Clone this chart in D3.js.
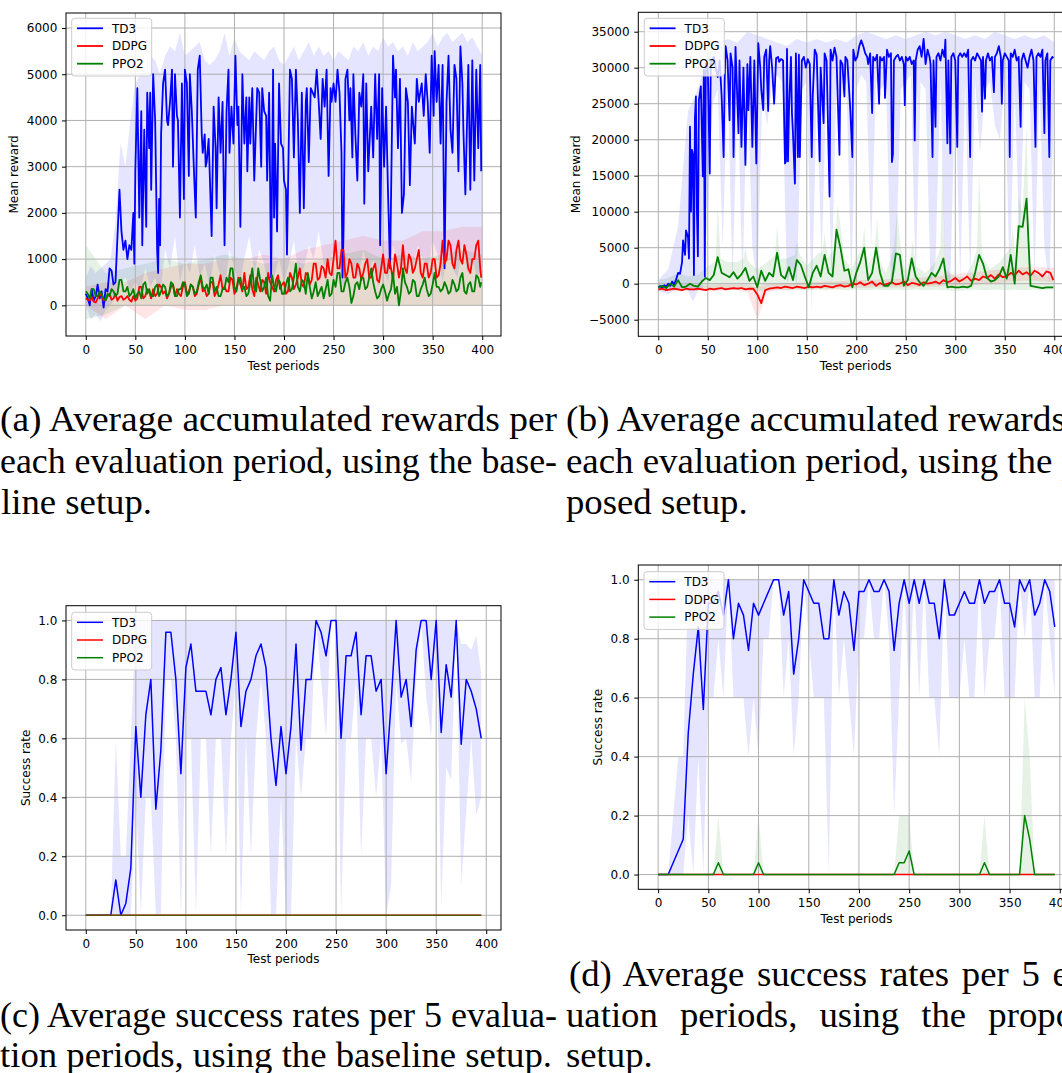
<!DOCTYPE html>
<html>
<head>
<meta charset="utf-8">
<script src="https://cdn.jsdelivr.net/npm/d3@7"></script>
<style>
  body { margin: 0; background: #fff; }
  svg { display: block; }
</style>
</head>
<body>
<svg id="fig" width="1062" height="1073"></svg>
<script>
// ---------- data ----------
const seriesNames = ["TD3", "DDPG", "PPO2"];
const seriesColors = ["#0000ff", "#ff0000", "#008000"];
const xTicks = [0, 50, 100, 150, 200, 250, 300, 350, 400];
const yTicksA = [0, 1000, 2000, 3000, 4000, 5000, 6000];
const yTicksB = [-5000, 0, 5000, 10000, 15000, 20000, 25000, 30000, 35000];
const yTicksRate = [0, 0.2, 0.4, 0.6, 0.8, 1.0];

// (a) mean reward, baseline setup  -- [period, value]
const td3A = [[0,250],[2,150],[4,0],[6,350],[8,100],[10,200],[12,450],[14,150],[16,300],[18,-50],
  [20,350],[22,300],[24,800],[26,750],[28,450],[30,500],[32,1500],[34,2500],[36,1600],[38,1200],
  [40,1400],[42,1000],[44,1300],[46,1200],[48,2000],[49,900],[50,2900],[52,4700],[54,1900],[56,4200],
  [57,1300],[59,3800],[61,1700],[62,4600],[64,3400],[65,4600],[66,2500],[68,5000],[70,4000],[72,1200],
  [73,700],[74,2300],[75,1300],[76,3700],[78,4800],[80,5100],[82,4000],[83,3900],[85,4400],[87,5100],
  [88,3000],[90,5000],[92,4100],[93,4000],[95,1900],[97,4800],[99,2300],[100,5100],[102,4800],[104,2800],
  [105,5000],[107,4200],[109,3000],[111,1900],[113,5100],[115,5400],[117,3700],[118,3300],[120,3700],[121,3000],
  [122,3100],[124,3600],[125,2900],[127,1500],[129,4300],[131,3400],[132,2100],[134,4500],[136,3300],[138,4400],
  [140,1300],[142,4200],[144,5100],[145,3300],[147,4300],[149,3500],[151,5400],[153,3900],[154,4300],[156,1700],
  [158,5000],[160,3500],[162,4500],[163,2900],[165,4500],[166,3500],[168,4700],[170,2700],[171,3400],[173,4700],
  [175,4600],[177,3000],[178,4700],[180,4200],[182,4100],[183,2700],[185,4600],[187,600],[189,5100],[190,1900],
  [191,3500],[193,1600],[195,4800],[197,3500],[199,3400],[200,2700],[202,2500],[203,1100],[206,5100],[208,4900],
  [210,3200],[212,5100],[214,4000],[216,2000],[218,4600],[220,2100],[222,4400],[223,4700],[225,3100],[227,4700],
  [229,4600],[231,4500],[233,5100],[235,4400],[237,3600],[239,4900],[241,4300],[243,5100],[245,2800],[247,4700],
  [248,4400],[250,4800],[252,4400],[254,5100],[256,4600],[258,3300],[259,600],[260,1500],[262,4900],[264,5100],
  [266,4000],[267,4700],[269,3200],[270,5000],[272,3700],[274,2700],[276,4600],[278,4300],[280,5000],[281,2200],
  [283,4800],[285,2900],[288,4300],[290,3200],[292,5000],[294,3600],[296,5000],[297,1300],[299,4700],[301,3000],
  [303,4300],[305,2400],[307,800],[310,5400],[312,4500],[313,5100],[315,3400],[317,4900],[319,2000],[321,2400],
  [323,4700],[325,4400],[327,2600],[329,4300],[332,3500],[334,4900],[336,4400],[339,4800],[341,4100],[343,5000],
  [345,4400],[347,3300],[349,5400],[351,4100],[352,5500],[354,4400],[356,5200],[358,3500],[360,5200],[362,800],
  [364,4400],[366,5400],[368,3800],[370,3300],[372,5200],[374,4900],[376,2900],[378,5600],[380,4800],[381,3800],
  [383,2400],[386,5200],[388,2500],[390,5300],[392,2700],[394,5100],[396,3400],[398,5200],[399,2900]];
// DDPG and PPO2 every 2 periods, last value at 399
const ddpgA = [150,120,100,180,80,60,150,250,200,100,120,200,250,120,150,250,100,180,200,120,
  150,200,120,80,200,100,150,400,400,150,200,350,300,150,350,200,250,450,400,250,
  300,150,250,400,450,200,350,250,200,400,500,250,300,450,400,200,250,450,600,300,
  350,200,250,500,500,200,300,450,650,350,400,300,300,600,550,250,350,600,450,300,
  700,350,400,650,350,200,600,450,300,550,500,250,700,500,400,300,550,650,350,450,
  500,250,300,700,600,350,450,600,800,450,400,700,650,450,550,900,900,550,600,850,
  800,600,1000,700,650,1000,1400,800,800,1200,1200,600,700,1000,900,600,600,900,800,550,
  700,900,1000,600,600,800,900,550,500,800,1100,700,700,1000,800,550,1100,900,600,800,
  1300,800,700,1100,1000,700,800,1000,1200,700,600,900,900,600,700,1000,1000,600,650,900,
  1400,900,1000,1400,1300,900,800,1200,1400,1000,900,1300,1100,800,700,1000,1000,1300,1400,800,
  600];
const ppo2A = [300,250,150,350,350,200,200,300,250,150,100,250,200,350,300,200,250,550,550,300,
  300,400,200,250,350,150,250,300,150,450,500,250,350,200,200,400,450,200,300,450,
  400,200,250,500,450,200,200,350,350,500,450,200,250,450,400,250,300,500,650,400,
  350,450,250,600,600,300,400,200,200,350,350,600,500,800,800,400,300,550,600,350,
  400,200,250,500,800,350,300,800,550,300,400,600,200,100,650,400,300,550,500,250,
  250,450,600,300,350,600,900,400,300,550,500,250,700,400,150,300,500,200,300,400,
  150,350,550,200,250,550,400,700,700,300,300,500,600,400,50,200,450,500,350,600,
  600,350,400,600,800,500,300,150,200,350,450,300,100,250,350,700,250,400,0,300,
  800,500,400,250,300,550,500,200,200,350,450,600,350,200,250,450,700,400,400,300,
  350,500,400,250,300,550,450,300,350,600,700,300,250,450,500,300,300,650,600,400,
  500];
// bands (every 5 periods for TD3, every 20 for the others)
const td3AUpper = [600,850,700,800,900,1000,1800,3500,3000,4000,
  4800,5000,5200,5400,5300,5000,5400,5600,5500,5900,
  5400,5500,5600,5700,5300,5200,5300,5500,5900,5400,
  5800,5500,5400,5300,5500,5400,5300,5500,5600,5300,
  5200,5400,5600,5300,5500,5700,5400,5600,5400,5500,
  5300,5500,5400,5300,5600,5500,5700,5400,5600,5500,
  5800,5600,5700,5500,5600,5400,5700,5500,5600,5700,
  5900,5600,5800,5900,5700,5800,5900,5700,5800,5600,
  5400];
const td3ALower = [0,-300,-200,-350,-100,0,200,500,600,300,
  500,300,800,400,600,200,1200,800,1500,500,
  1000,700,1300,600,900,400,1100,700,300,1200,
  800,400,1000,1500,700,1200,900,300,600,1000,
  500,900,1400,600,800,1300,1000,1600,900,700,
  1200,1000,300,1100,800,600,1200,700,1000,400,
  800,500,1300,900,700,1100,800,1300,1000,700,
  1400,1100,500,1200,800,600,1300,700,1000,600,
  800];
const ddpgAUpper = [400,500,500,700,800,900,900,1000,1000,1100,1000,1200,1300,1400,1500,1400,1400,1600,1600,1700,1700];
const ddpgALower = [0,-300,0,-300,0,-100,-100,0,0,0,0,0,0,0,0,0,0,0,0,0,0];
const ppo2AUpper = [1300,700,800,900,1000,900,1000,1100,1000,900,1000,900,1000,1100,1200,1000,1100,1000,1100,1200,1100];
const ppo2ALower = [-300,-200,0,0,0,0,0,0,0,0,0,0,0,0,0,0,0,0,0,0,0];

// (b) mean reward, proposed setup  -- [period, value]
const td3B = [[0,-500],[2,-300],[4,-600],[6,-200],[8,-400],[10,0],[12,-300],[14,300],[16,-100],[18,600],
  [20,1500],[22,1400],[24,3000],[25,6000],[27,4000],[28,7400],[30,6500],[31,3500],[32,21800],[33,10000],
  [34,18600],[35,18000],[36,1200],[37,23000],[38,26000],[39,10200],[40,3800],[41,25500],[43,27400],[45,14900],
  [46,29700],[47,1000],[48,30600],[50,30000],[52,15300],[53,30600],[56,31500],[58,30000],[60,28700],[62,31000],
  [64,26000],[66,17600],[67,28000],[68,33000],[70,31000],[72,22700],[73,32000],[75,30000],[76,17600],[78,32900],
  [81,20900],[82,31000],[84,19000],[86,30000],[88,16500],[90,30500],[91,24100],[93,31500],[95,19000],[97,31000],
  [99,16700],[101,33400],[103,30000],[104,27000],[106,24100],[107,31500],[109,32500],[111,24000],[112,31000],[113,33000],
  [115,30000],[117,25000],[119,31300],[121,31500],[122,30800],[124,31200],[126,31000],[128,16700],[129,17000],[130,32600],
  [131,17000],[132,24000],[134,31500],[135,23700],[136,21000],[138,13900],[139,32000],[141,17600],[142,31800],[143,17600],
  [145,31000],[147,31500],[149,30000],[151,31200],[153,30500],[155,17600],[156,26000],[158,32500],[160,31800],[163,17000],
  [164,30000],[167,22300],[168,32000],[170,31000],[173,12100],[174,32500],[176,31000],[178,32800],[180,31500],[183,17900],
  [184,31000],[186,30500],[188,26000],[189,31500],[191,31000],[194,24000],[196,17600],[197,32500],[199,31000],[201,31500],
  [203,33000],[205,33800],[207,33000],[209,32000],[211,31500],[212,30500],[214,32000],[216,23700],[217,31500],[219,31000],
  [221,31800],[223,25000],[224,31500],[226,31000],[228,31500],[229,25800],[231,32500],[233,31500],[235,32000],[236,16900],
  [237,18000],[238,31000],[240,31500],[242,31800],[244,31000],[246,31500],[248,30500],[249,24800],[250,31500],[252,31000],
  [254,31500],[256,30500],[258,31000],[259,19900],[260,31000],[262,32500],[264,33000],[266,31500],[268,34000],[270,30500],
  [272,32500],[274,31500],[275,30500],[277,17600],[278,31000],[280,21800],[281,31500],[283,32000],[285,31000],[287,32500],
  [289,31500],[290,33900],[292,19500],[293,31000],[295,18100],[296,31500],[298,32000],[300,31000],[302,19000],[303,31500],
  [305,32000],[307,31500],[309,32000],[311,31500],[313,32500],[315,17600],[316,31000],[318,31500],[320,31000],[322,32000],
  [324,31500],[326,31000],[327,23900],[328,31500],[330,25700],[331,31000],[333,32000],[335,31000],[337,31500],[339,26600],
  [340,31500],[342,32000],[344,33000],[346,31500],[347,25000],[348,31000],[350,32000],[352,31500],[354,31000],[355,17600],
  [356,32000],[358,31500],[360,32500],[362,31000],[364,31500],[366,21800],[367,31000],[369,32000],[371,31000],[373,30000],
  [375,31500],[377,32500],[379,31000],[381,19000],[382,31500],[384,32000],[386,31500],[388,32500],[390,20900],[391,31000],
  [393,32000],[395,17600],[396,31000],[398,31500],[399,31300]];
// DDPG and PPO2 every 4 periods, last value at 399
const ddpgB = [-800,-700,-900,-800,-700,-800,-900,-700,-800,-800,
  -700,-800,-900,-700,-800,-700,-600,-800,-700,-600,
  -700,-600,-800,-700,-700,-1500,-2700,-900,-700,-600,
  -500,-600,-400,-500,-600,-400,-500,-600,-400,-500,
  -400,-500,-300,-400,-500,-300,-200,-400,-300,0,
  -100,200,-200,0,300,-300,100,-200,0,200,
  -100,0,300,-200,100,0,-200,200,0,100,
  300,0,500,200,400,800,300,600,1000,400,
  700,500,1000,800,1200,700,1300,900,1000,1500,
  1200,1800,1300,1600,1100,1800,1500,1000,1700,1500,
  500];
const ppo2B = [-500,-300,-600,0,-400,500,-500,-400,0,-300,
  -400,300,800,500,1200,3700,1500,1200,900,1600,
  700,1300,2200,400,1000,-500,1800,400,1500,1000,
  4300,1200,700,2300,500,3300,2600,1000,-500,1500,
  2500,1000,4000,1500,1000,7500,5000,1800,2000,-500,
  1500,3000,5000,500,1500,5000,1500,-300,-300,300,
  4200,4000,-300,500,3500,1000,200,-300,500,1500,
  1000,2000,3500,-500,-400,-500,-500,-400,-500,-300,
  1500,4000,2800,800,300,500,1000,2300,700,4000,
  0,8000,7900,11800,-300,-400,-500,-600,-500,-500,
  -500];
const td3BUpper = [500,2000,8000,24000,27000,32000,33500,34000,33500,35000,
  34500,34000,33500,33000,34000,33500,34000,33500,34000,33500,
  34500,35000,34500,34000,34500,34000,34500,35000,34500,35000,
  34500,34000,34500,34000,35000,34500,34000,34500,34000,34500,
  33500];
const td3BLower = [-1000,-1200,-1500,-1000,-800,-500,-1000,-2500,-1000,-500,
  10000,25000,27000,5000,28000,0,27000,0,28000,5000,
  0,26000,22000,28000,29000,28000,0,2000,0,27000,
  28000,-4000,26000,3000,28000,0,27000,26000,28000,0,
  27000,29000,28000,5000,28000,27000,28000,0,2000,27000,
  28000,29000,0,28000,27000,0,3000,28000,0,0,
  27000,0,28000,0,28000,18000,27000,28000,22000,20000,
  28000,0,27000,5000,28000,27000,0,28000,5000,0,
  27000];
const ddpgBUpper = [-300,-300,-300,-200,-200,-200,-100,-100,-100,-100,
  -500,0,0,100,100,200,200,300,300,400,
  500,500,600,600,700,700,800,900,1000,1200,
  1300,1500,1600,1800,1900,2000,2200,2300,2300,2300,
  2200];
const ddpgBLower = [-1000,-1000,-1100,-1000,-1000,-1000,-1000,-900,-900,-1200,
  -5000,-1200,-900,-900,-800,-800,-700,-700,-700,-600,
  -600,-600,-500,-600,-500,-500,-500,-400,-400,-300,
  -300,-200,-200,0,0,200,300,400,400,300,
  200];
const ppo2BUpper = [[0,500],[10,800],[20,1500],[30,1000],[40,1200],[50,2500],[58,3000],[60,11000],[63,3500],[70,3000],
  [80,3000],[86,3500],[88,5000],[91,3000],[100,2000],[110,3000],[118,4000],[120,8000],[123,3500],[130,3500],
  [138,4000],[140,6000],[143,4000],[150,2500],[160,4000],[166,4500],[168,7000],[171,3500],[178,5000],[181,11000],
  [184,8000],[188,3500],[195,2000],[200,3500],[206,5000],[208,8000],[211,2500],[218,4000],[221,9000],[224,3000],
  [230,1500],[238,5000],[241,10000],[245,5000],[250,1500],[255,4000],[257,6000],[260,2500],[270,1500],[280,3000],
  [285,5000],[287,18000],[290,2000],[300,1000],[310,1000],[318,3000],[322,5000],[324,16000],[327,4000],[335,2000],
  [345,3000],[350,4000],[356,5000],[358,8000],[361,3000],[364,12000],[368,10000],[372,22000],[375,2000],[385,1000],
  [399,1000]];
const ppo2BLower = [-900,-800,-900,-800,-900,-700,-800,-900,-800,-900,
  -1000,-900,-800,-900,-800,-900,-800,-900,-800,-900,
  -800,-900,-800,-900,-800,-900,-800,-900,-800,-900,
  -1000,-900,-800,-900,-800,-900,-800,-900,-800,-900,
  -800];

// (c) success rate, baseline setup (every 5 periods)
const td3C = [0,0,0,0,0,0,0.12,0,0.04,0.16,
  0.64,0.40,0.68,0.80,0.36,0.56,0.96,0.96,0.80,0.48,
  0.84,0.92,0.76,0.76,0.76,0.68,0.80,0.84,0.68,0.80,
  0.96,0.64,0.76,0.80,0.88,0.92,0.84,0.60,0.44,0.64,
  0.48,0.64,0.92,0.56,0.80,0.80,1.0,0.96,0.88,1.0,
  1.0,0.60,0.88,0.88,0.96,0.68,0.88,0.88,0.76,0.80,
  0.48,0.72,1.0,0.74,0.80,0.64,0.90,1.0,1.0,0.80,
  1.0,0.62,0.85,0.74,1.0,0.58,0.80,0.76,0.70,0.60];
const td3CUpper = [0,0,0,0,0,0,0.6,0.2,0.2,0.6,
  1,1,1,1,1,1,1,1,1,1,
  1,1,1,1,1,1,1,1,1,1,
  1,1,1,1,1,1,1,1,1,1,
  1,1,1,1,1,1,1,1,1,1,
  1,1,1,1,1,1,1,1,1,1,
  1,1,1,1,1,1,1,1,1,1,
  1,1,1,1,1,0.92,0.92,0.9,0.95,0.82];
const td3CLower = [0,0,0,0,0,0,0,0,0,0,
  0.4,0,0.4,0.4,0,0,0.8,0.8,0.6,0,
  0.6,0.6,0,0.6,0.6,0.2,0.6,0.6,0.2,0.6,
  0.8,0,0.6,0.2,0.6,0.8,0.6,0,0,0.4,
  0,0,0.6,0.4,0.6,0.6,1.0,0.8,0.6,1.0,
  1.0,0,0.6,0.6,0.8,0.2,0.6,0.6,0.4,0.6,
  0,0.1,0.8,0.58,0.6,0.45,0.8,1.0,0.74,0.6,
  1.0,0.03,0.5,0.46,1.0,0.1,0.35,0.6,0.34,0.4];
const zeroRate = [0,0,0,0,0,0,0,0,0,0,
  0,0,0,0,0,0,0,0,0,0,
  0,0,0,0,0,0,0,0,0,0,
  0,0,0,0,0,0,0,0,0,0,
  0,0,0,0,0,0,0,0,0,0,
  0,0,0,0,0,0,0,0,0,0,
  0,0,0,0,0,0,0,0,0,0,
  0,0,0,0,0,0,0,0,0,0];

// (d) success rate, proposed setup
const td3D = [0,0,0,0.04,0.08,0.12,0.48,0.68,0.84,0.56,
  0.92,0.92,0.96,0.88,1.0,0.80,0.92,0.88,0.76,0.92,
  0.88,0.92,0.96,1.0,1.0,0.88,0.96,0.68,0.80,1.0,
  0.96,0.92,0.92,0.80,0.80,1.0,0.88,0.96,0.92,0.76,
  0.96,0.96,1.0,0.96,0.96,1.0,0.96,0.76,0.92,1.0,
  0.92,1.0,0.92,1.0,0.92,0.92,0.80,1.0,0.88,0.88,
  0.92,0.96,0.92,0.92,1.0,0.92,0.96,0.96,1.0,0.92,
  0.92,0.84,1.0,0.96,1.0,0.88,0.92,1.0,0.96,0.84];
const td3DUpper = [0,0,0,0.2,0.4,0.4,1,1,1,1,
  1,1,1,1,1,1,1,1,1,1,
  1,1,1,1,1,1,1,1,1,1,
  1,1,1,1,1,1,1,1,1,1,
  1,1,1,1,1,1,1,1,1,1,
  1,1,1,1,1,1,1,1,1,1,
  1,1,1,1,1,1,1,1,1,1,
  1,1,1,1,1,1,1,1,1,1];
const td3DLower = [0,0,0,0,0,0,0.2,0,0.4,0,
  0.6,0.6,0.8,0.6,1.0,0.6,0.6,0.6,0.4,0.6,
  0.4,0.8,0.8,1.0,1.0,0.6,0.8,0.4,0.6,1.0,
  0.8,0.6,0.6,0.6,0,1.0,0.6,0.8,0.6,0.4,
  0.8,0.8,1.0,0.8,0.8,1.0,0.8,0.2,0.6,1.0,
  0.6,1.0,0.6,1.0,0.6,0.6,0.4,1.0,0.6,0.6,
  0.6,0.8,0.6,0.6,1.0,0.6,0.8,0.8,1.0,0.6,
  0.6,0.6,1.0,0.8,1.0,0.6,0.6,1.0,0.8,0.6];
const ppo2D = [0,0,0,0,0,0,0,0,0,0,
  0,0,0.04,0,0,0,0,0,0,0,
  0.04,0,0,0,0,0,0,0,0,0,
  0,0,0,0,0,0,0,0,0,0,
  0,0,0,0,0,0,0,0,0.04,0.04,
  0.08,0,0,0,0,0,0,0,0,0,
  0,0,0,0,0,0.04,0,0,0,0,
  0,0,0,0.2,0.12,0,0,0,0,0];
const ppo2DUpper = [0,0,0,0,0,0,0,0,0,0,
  0,0,0.2,0,0,0,0,0,0,0,
  0.2,0,0,0,0,0,0,0,0,0,
  0,0,0,0,0,0,0,0,0,0,
  0,0,0,0,0,0,0,0,0.2,0.2,
  0.2,0,0,0,0,0,0,0,0,0,
  0,0,0,0,0,0.2,0,0,0,0,
  0,0,0,0.6,0.4,0,0,0,0,0];

// x positions of the sampled series
const every2 = d3.range(0, 400, 2).concat([399]);
const every4 = d3.range(0, 400, 4).concat([399]);
const every5 = d3.range(0, 400, 5);
const every5to400 = d3.range(0, 401, 5);
const every10 = d3.range(0, 401, 10);
const every20 = d3.range(0, 401, 20);

// ---------- drawing ----------
const svg = d3.select("#fig");
svg.append("rect").attr("width", 1062).attr("height", 1073).attr("fill", "white");
const tickFont = "'DejaVu Sans', Verdana, sans-serif";

function panel(cfg) {
  const x = d3.scaleLinear().domain(cfg.xDomain).range([cfg.left, cfg.right]);
  const y = d3.scaleLinear().domain(cfg.yDomain).range([cfg.bottom, cfg.top]);
  const g = svg.append("g");

  g.append("clipPath").attr("id", "clip" + cfg.id)
    .append("rect")
    .attr("x", cfg.left).attr("y", cfg.top)
    .attr("width", cfg.right - cfg.left).attr("height", cfg.bottom - cfg.top);
  const plot = g.append("g").attr("clip-path", "url(#clip" + cfg.id + ")");

  // shaded bands: upper edge forward, lower edge back
  cfg.bands.forEach(b => {
    const top = b.up.map((v, i) => [x(b.upP[i]), y(v)]);
    const bot = b.lo.map((v, i) => [x(b.loP[i]), y(v)]).reverse();
    plot.append("path")
      .attr("d", d3.line()(top.concat(bot)) + "Z")
      .attr("fill", b.color)
      .attr("fill-opacity", 0.1);
  });

  // grid
  plot.selectAll(".gx").data(xTicks).enter().append("line")
    .attr("x1", d => x(d)).attr("x2", d => x(d))
    .attr("y1", cfg.top).attr("y2", cfg.bottom)
    .attr("stroke", "#b0b0b0").attr("stroke-width", 1);
  plot.selectAll(".gy").data(cfg.yTicks).enter().append("line")
    .attr("x1", cfg.left).attr("x2", cfg.right)
    .attr("y1", d => y(d)).attr("y2", d => y(d))
    .attr("stroke", "#b0b0b0").attr("stroke-width", 1);

  // lines
  cfg.lines.forEach(s => {
    const line = d3.line()
      .x((d, i) => x(s.periods[i]))
      .y(d => y(d));
    plot.append("path").datum(s.values)
      .attr("d", line)
      .attr("fill", "none")
      .attr("stroke", s.color)
      .attr("stroke-opacity", s.opacity || 1)
      .attr("stroke-width", cfg.lw)
      .attr("stroke-linejoin", "round");
  });

  // frame
  g.append("rect")
    .attr("x", cfg.left).attr("y", cfg.top)
    .attr("width", cfg.right - cfg.left).attr("height", cfg.bottom - cfg.top)
    .attr("fill", "none").attr("stroke", "black").attr("stroke-width", 1);

  // axes
  const xAxis = d3.axisBottom(x).tickValues(xTicks).tickSize(4).tickPadding(5.5);
  const gx = g.append("g").attr("transform", "translate(0," + cfg.bottom + ")").call(xAxis);
  const yAxis = d3.axisLeft(y).tickValues(cfg.yTicks).tickSize(4).tickPadding(4.7)
    .tickFormat(cfg.yFormat);
  const gy = g.append("g").attr("transform", "translate(" + cfg.left + ",0)").call(yAxis);
  [gx, gy].forEach(a => {
    a.select(".domain").remove();
    a.selectAll("text").attr("font-family", tickFont).attr("font-size", 12).attr("fill", "black");
    a.selectAll("line").attr("stroke", "black");
  });

  g.append("text")
    .attr("x", (cfg.left + cfg.right) / 2).attr("y", cfg.xLabelY)
    .attr("text-anchor", "middle")
    .attr("font-family", tickFont).attr("font-size", 12)
    .text("Test periods");
  g.append("text")
    .attr("transform", "translate(" + cfg.yLabelX + "," + (cfg.top + cfg.bottom) / 2 + ") rotate(-90)")
    .attr("text-anchor", "middle")
    .attr("font-family", tickFont).attr("font-size", 12)
    .text(cfg.yLabel);

  // legend
  const lg = g.append("g").attr("transform", "translate(" + cfg.legend[0] + "," + cfg.legend[1] + ")");
  lg.append("rect").attr("width", 80).attr("height", 57.7).attr("rx", 3)
    .attr("fill", "white").attr("fill-opacity", 0.8)
    .attr("stroke", "#cccccc").attr("stroke-width", 1);
  seriesNames.forEach((name, i) => {
    const yy = 10 + i * 17.7;
    lg.append("line").attr("x1", 5.3).attr("x2", 31.3).attr("y1", yy).attr("y2", yy)
      .attr("stroke", seriesColors[i]).attr("stroke-width", cfg.lw);
    lg.append("text").attr("x", 40.3).attr("y", yy + 4.3)
      .attr("font-family", tickFont).attr("font-size", 12)
      .text(name);
  });
}

const rewardFmt = d => String(d).replace("-", "\u2212");
const rateFmt = d3.format(".1f");

panel({
  id: "a", left: 66, right: 501, top: 13, bottom: 336, lw: 1.8,
  xDomain: [-19.95, 418.95], yDomain: [-664, 6325], yTicks: yTicksA, yFormat: rewardFmt,
  xLabelY: 369.7, yLabelX: 18, yLabel: "Mean reward", legend: [71.7, 18.3],
  bands: [
    { upP: every5to400, up: td3AUpper, loP: every5to400, lo: td3ALower, color: seriesColors[0] },
    { upP: every20, up: ddpgAUpper, loP: every20, lo: ddpgALower, color: seriesColors[1] },
    { upP: every20, up: ppo2AUpper, loP: every20, lo: ppo2ALower, color: seriesColors[2] }
  ],
  lines: [
    { periods: td3A.map(d => d[0]), values: td3A.map(d => d[1]), color: seriesColors[0] },
    { periods: every2, values: ddpgA, color: seriesColors[1] },
    { periods: every2, values: ppo2A, color: seriesColors[2] }
  ]
});

panel({
  id: "b", left: 638.3, right: 1073, top: 12.3, bottom: 336.3, lw: 1.8,
  xDomain: [-20.2, 418.9], yDomain: [-7306, 37694], yTicks: yTicksB, yFormat: rewardFmt,
  xLabelY: 369.7, yLabelX: 580.3, yLabel: "Mean reward", legend: [644.3, 18.3],
  bands: [
    { upP: every10, up: td3BUpper, loP: every5to400, lo: td3BLower, color: seriesColors[0] },
    { upP: every10, up: ddpgBUpper, loP: every10, lo: ddpgBLower, color: seriesColors[1] },
    { upP: ppo2BUpper.map(d => d[0]), up: ppo2BUpper.map(d => d[1]), loP: every10, lo: ppo2BLower, color: seriesColors[2] }
  ],
  lines: [
    { periods: td3B.map(d => d[0]), values: td3B.map(d => d[1]), color: seriesColors[0] },
    { periods: every4, values: ddpgB, color: seriesColors[1] },
    { periods: every4, values: ppo2B, color: seriesColors[2] }
  ]
});

panel({
  id: "c", left: 66, right: 501, top: 605.7, bottom: 930, lw: 1.5,
  xDomain: [-19.75, 414.75], yDomain: [-0.05, 1.05], yTicks: yTicksRate, yFormat: rateFmt,
  xLabelY: 963, yLabelX: 29.7, yLabel: "Success rate", legend: [71.7, 612.3],
  bands: [
    { upP: every5, up: td3CUpper, loP: every5, lo: td3CLower, color: seriesColors[0] }
  ],
  lines: [
    { periods: every5, values: td3C, color: seriesColors[0] },
    { periods: every5, values: zeroRate, color: seriesColors[1] },
    { periods: every5, values: zeroRate, color: seriesColors[2], opacity: 0.65 }
  ]
});

panel({
  id: "d", left: 638.3, right: 1074.6, top: 565, bottom: 889.3, lw: 1.5,
  xDomain: [-19.75, 414.75], yDomain: [-0.05, 1.05], yTicks: yTicksRate, yFormat: rateFmt,
  xLabelY: 923, yLabelX: 602.3, yLabel: "Success rate", legend: [644, 571.7],
  bands: [
    { upP: every5, up: td3DUpper, loP: every5, lo: td3DLower, color: seriesColors[0] },
    { upP: every5, up: ppo2DUpper, loP: every5, lo: zeroRate, color: seriesColors[2] }
  ],
  lines: [
    { periods: every5, values: td3D, color: seriesColors[0] },
    { periods: every5, values: zeroRate, color: seriesColors[1] },
    { periods: every5, values: ppo2D, color: seriesColors[2] }
  ]
});

// ---------- captions ----------
const capFamily = "'Liberation Serif', 'Times New Roman', serif";
const capSize = 35;
const colWidth = 557;
const capK = 1.05;

// mode "fill": stretch the whole line to the column; "words": widen the gaps only
function caption(str, x, yb, mode) {
  const t = svg.append("text")
    .attr("font-family", capFamily).attr("font-size", capSize)
    .attr("fill", "black")
    .text(str);
  if (mode === "fill") {
    t.attr("x", x).attr("y", yb)
      .attr("textLength", colWidth).attr("lengthAdjust", "spacingAndGlyphs");
  } else {
    t.attr("transform", "translate(" + x + "," + yb + ") scale(" + capK + ",1)");
    if (mode === "words") {
      const w0 = t.node().getComputedTextLength();
      const n = (str.match(/ /g) || []).length;
      t.style("word-spacing", ((colWidth / capK - w0) / n) + "px");
    }
  }
}

caption("(a) Average accumulated rewards per", 0, 431, "fill");
caption("each evaluation period, using the base-", 0, 473, "fill");
caption("line setup.", 1, 514);
caption("(b) Average accumulated rewards per", 566, 431, "fill");
caption("each evaluation period, using the pro-", 566, 473, "fill");
caption("posed setup.", 566, 514);
caption("(c) Average success rates per 5 evalua-", 0, 1027, "fill");
caption("tion periods, using the baseline setup.", 0, 1067);
caption("(d) Average success rates per 5 eval-", 569, 986, "words");
caption("uation periods, using the proposed", 566, 1027, "words");
caption("setup.", 566, 1067);
</script>
</body>
</html>
